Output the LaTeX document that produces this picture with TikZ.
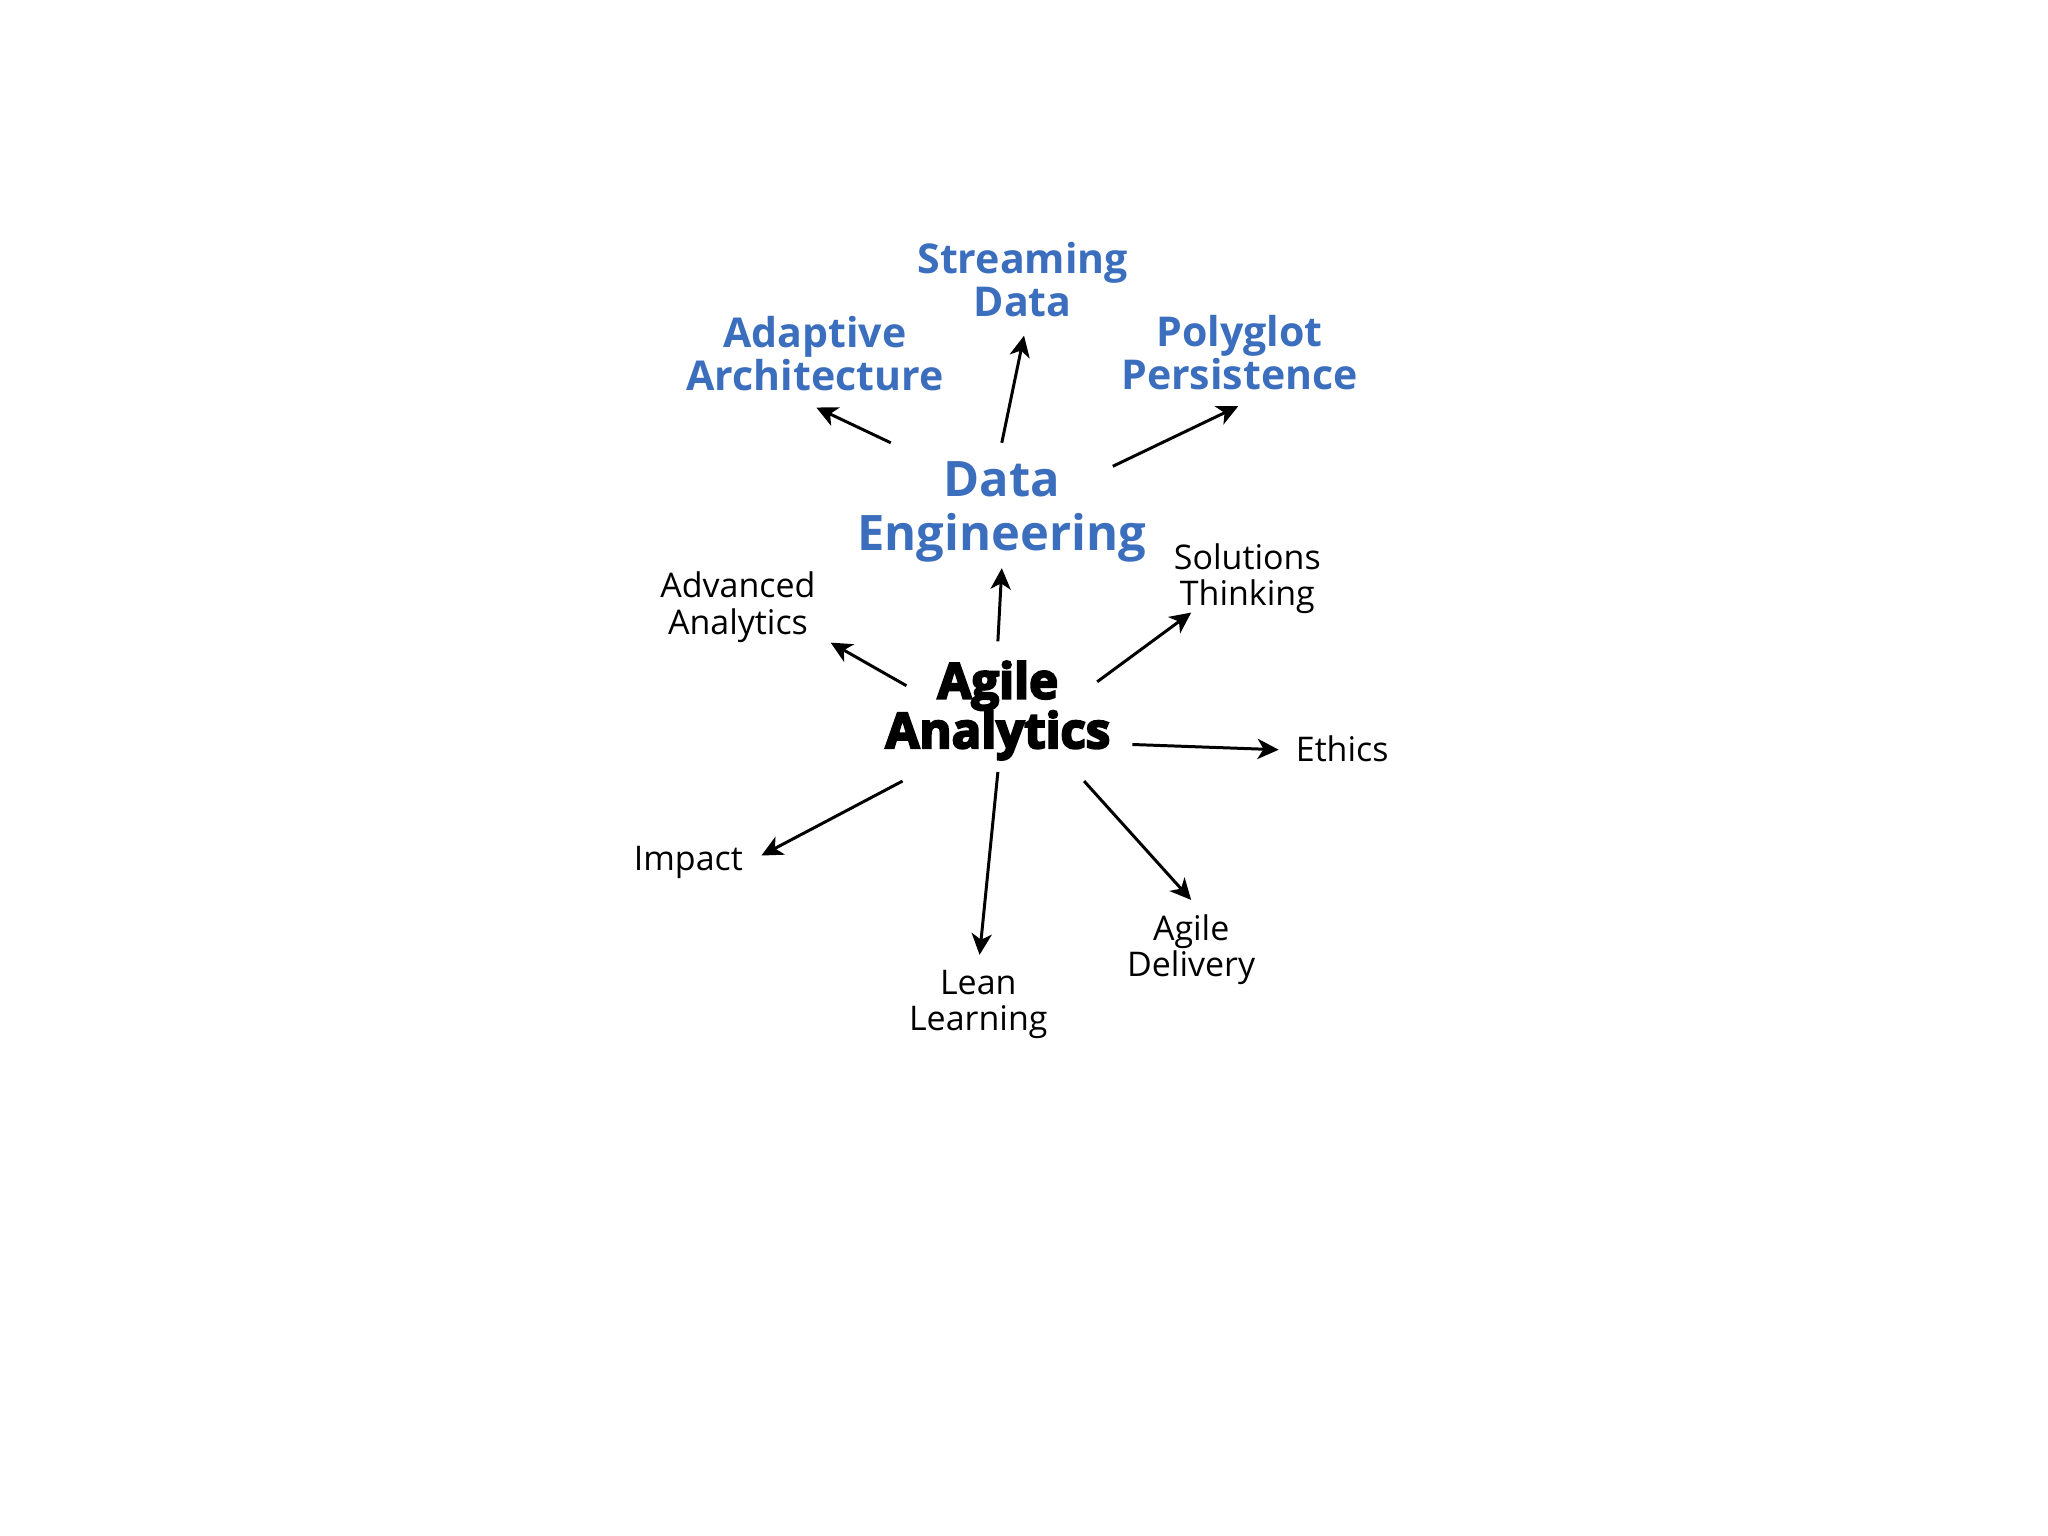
\documentclass[tikz,border=0pt]{standalone}
\usepackage{fontspec}
\setmainfont{Open Sans}
\newfontfamily\heavyfont{Open Sans}[BoldFeatures={FakeBold=4.5}]
\usepackage{tikz}
\usetikzlibrary{arrows.meta,positioning}
\definecolor{deblue}{HTML}{3C6EBE}

\begin{document}
\begin{tikzpicture}[x=0.1mm,y=-0.1mm,inner sep=0pt,line width=0.65pt,
    >={Stealth[length=4.6pt,width=4.4pt,inset=1.3pt]},
    topic/.style={align=center,font=\fontsize{7.4}{8}\selectfont},
    bluetopic/.style={align=center,text=deblue,font=\bfseries\fontsize{8.95}{9.4}\selectfont},
    hub/.style={align=center,text=deblue,font=\bfseries\fontsize{10.65}{11.7}\selectfont},
    core/.style={align=center,font=\heavyfont\bfseries\fontsize{10.7}{10.8}\selectfont}]
    \useasboundingbox (0,0) rectangle (1568,1176);

    \node[core] (aa) at (764,544) {Agile\\Analytics};
    \node[hub] (de) at (767,392) {Data\\Engineering};
    \node[bluetopic] (st) at (783,214) {Streaming\\Data};
    \node[bluetopic] (ad) at (624,271) {Adaptive\\Architecture};
    \node[bluetopic] (pp) at (949,270) {Polyglot\\Persistence};
    \node[topic] (adv) at (565,465) {Advanced\\Analytics};
    \node[topic] (sol) at (955,443) {Solutions\\Thinking};
    \node[topic,anchor=west] (eth) at (991,573) {Ethics};
    \node[topic] (imp) at (527,660) {Impact};
    \node[topic] (del) at (912,727) {Agile\\Delivery};
    \node[topic] (lean) at (749,769) {Lean\\Learning};

    \path[->]
    ([shift={(-85,-53)}]de.center) edge ([shift={(1,41)}]ad.center)
    ([shift={(0,-53)}]de.center) edge ([shift={(1,43)}]st.center)
    ([shift={(85,-35)}]de.center) edge ([shift={(-1,41)}]pp.center)
    ([shift={(0,-53)}]aa.center) edge ([shift={(0,43)}]de.center)
    ([shift={(-70,-19)}]aa.center) edge ([shift={(71,27)}]adv.center)
    ([shift={(76,-22)}]aa.center) edge ([shift={(-43,26)}]sol.center)
    ([shift={(103,26)}]aa.center) edge ([shift={(-12,1)}]eth.west)
    ([shift={(-73,54)}]aa.center) edge ([shift={(56,-5)}]imp.center)
    ([shift={(0,47)}]aa.center) edge ([shift={(1,-38)}]lean.center)
    ([shift={(66,54)}]aa.center) edge ([shift={(0,-38)}]del.center);

\end{tikzpicture}
\end{document}
